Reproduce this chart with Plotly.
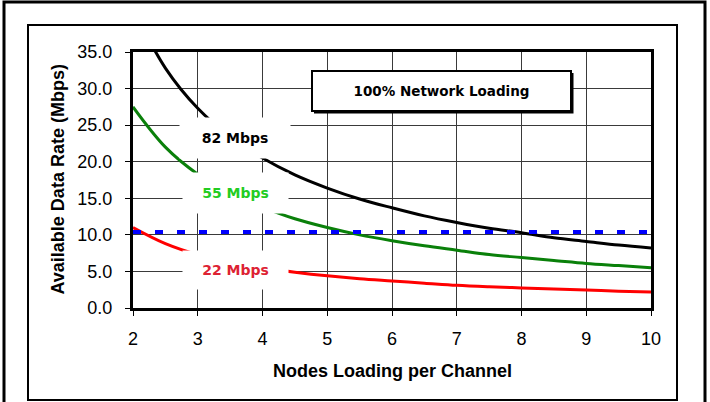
import plotly.graph_objects as go

# ---- data ----
nodes = [2, 2.5, 3, 3.5, 4, 4.5, 5, 5.5, 6, 6.5, 7, 7.5, 8, 8.5, 9, 9.5, 10]
rate_82 = [41.0, 32.8, 27.3, 23.4, 20.5, 18.2, 16.4, 14.9, 13.7, 12.6, 11.7, 10.9, 10.3, 9.6, 9.1, 8.6, 8.2]
rate_55 = [27.5, 22.0, 18.3, 15.7, 13.8, 12.2, 11.0, 10.0, 9.2, 8.5, 7.9, 7.3, 6.9, 6.5, 6.1, 5.8, 5.5]
rate_22 = [11.0, 8.8, 7.3, 6.3, 5.5, 4.9, 4.4, 4.0, 3.7, 3.4, 3.1, 2.9, 2.75, 2.6, 2.45, 2.3, 2.2]
threshold_x = [2, 10]
threshold_y = [10.4, 10.4]

x_ticks = [2, 3, 4, 5, 6, 7, 8, 9, 10]
y_ticks = [0, 5, 10, 15, 20, 25, 30, 35]
y_tick_labels = ["0.0", "5.0", "10.0", "15.0", "20.0", "25.0", "30.0", "35.0"]

series_labels = ["82 Mbps", "55 Mbps", "22 Mbps"]
chart_note = "100% Network Loading"
x_title = "Nodes Loading per Channel"
y_title = "Available Data Rate (Mbps)"

W, H = 710, 402
L, R, T, B = 133, 651, 52, 308  # plot area pixels


def px(x):
    return (x - L) / (R - L)


def py(y):
    return (B - y) / (B - T)


fig = go.Figure()
fig.add_trace(go.Scatter(x=nodes, y=rate_82, mode="lines", line=dict(color="black", width=3, shape="spline"), showlegend=False))
fig.add_trace(go.Scatter(x=nodes, y=rate_55, mode="lines", line=dict(color="#0a800a", width=3, shape="spline"), showlegend=False))
fig.add_trace(go.Scatter(x=nodes, y=rate_22, mode="lines", line=dict(color="#ff0000", width=3, shape="spline"), showlegend=False))
fig.add_trace(go.Scatter(x=threshold_x, y=threshold_y, mode="lines", line=dict(color="#0000ff", width=4, dash="8px,14px"), showlegend=False))

label_font = "DejaVu Sans"
C = dict(xanchor="center", yanchor="middle", showarrow=False, xref="paper", yref="paper")
ann = []
# series labels with white boxes hiding grid and lines
ann.append(dict(x=px(235), y=py(138), text="<b>%s</b>" % series_labels[0],
                bgcolor="white", width=110, height=40, borderpad=0,
                font=dict(family=label_font, size=14, color="black"), **C))
ann.append(dict(x=px(235.5), y=py(193), text="<b>%s</b>" % series_labels[1],
                bgcolor="white", width=105, height=40, borderpad=0,
                font=dict(family=label_font, size=14, color="#22cc22"), **C))
ann.append(dict(x=px(235.5), y=py(269.5), text="<b>%s</b>" % series_labels[2],
                bgcolor="white", width=105, height=38, borderpad=0,
                font=dict(family=label_font, size=14, color="#dd2233"), **C))
# note box
ann.append(dict(x=px(441.5), y=py(91), text="<b>%s</b>" % chart_note,
                bgcolor="white", bordercolor="black", borderwidth=2, borderpad=0,
                width=257, height=38, font=dict(family=label_font, size=13.5, color="black"), **C))
# axis titles
ann.append(dict(x=0.5, y=py(371), text="<b>%s</b>" % x_title,
                font=dict(family="Liberation Sans", size=18, color="black"), **C))
ann.append(dict(x=px(57.5), y=0.5, text="<b>%s</b>" % y_title, textangle=-90,
                font=dict(family="Liberation Sans", size=18, color="black"), **C))

shapes = [
    # outer frame
    dict(type="rect", xref="paper", yref="paper", x0=px(4), x1=px(705), y0=py(406), y1=py(2),
         line=dict(color="black", width=3), layer="below"),
    # inner frame
    dict(type="rect", xref="paper", yref="paper", x0=px(28), x1=px(677), y0=py(400), y1=py(25),
         line=dict(color="black", width=2), layer="below"),
    # shadow of note box
    dict(type="rect", xref="paper", yref="paper", x0=px(314), x1=px(573.5), y0=py(113.5), y1=py(73),
         line=dict(width=0), fillcolor="black", layer="above"),
]

fig.update_layout(
    width=W, height=H,
    margin=dict(l=L, r=W - R, t=T, b=H - B, autoexpand=False),
    paper_bgcolor="white", plot_bgcolor="white",
    annotations=ann, shapes=shapes,
    xaxis=dict(range=[2, 10], tickvals=x_ticks, ticks="outside", ticklen=5, tickcolor="black",
               showgrid=True, gridcolor="#3a3a3a", gridwidth=1, zeroline=False,
               showline=True, linecolor="black", linewidth=3, mirror=True,
               tickfont=dict(family="Liberation Sans", size=18, color="black"), ticklabelstandoff=7),
    yaxis=dict(range=[0, 35], tickvals=y_ticks, ticktext=y_tick_labels, ticks="outside", ticklen=5,
               tickcolor="black", showgrid=True, gridcolor="#3a3a3a", gridwidth=1, zeroline=False,
               showline=True, linecolor="black", linewidth=3, mirror=True,
               tickfont=dict(family="Liberation Sans", size=18, color="black"), ticklabelstandoff=9),
)

fig.write_html("out.html", config={"displayModeBar": False},
               post_script="document.body.style.margin='0px';")
